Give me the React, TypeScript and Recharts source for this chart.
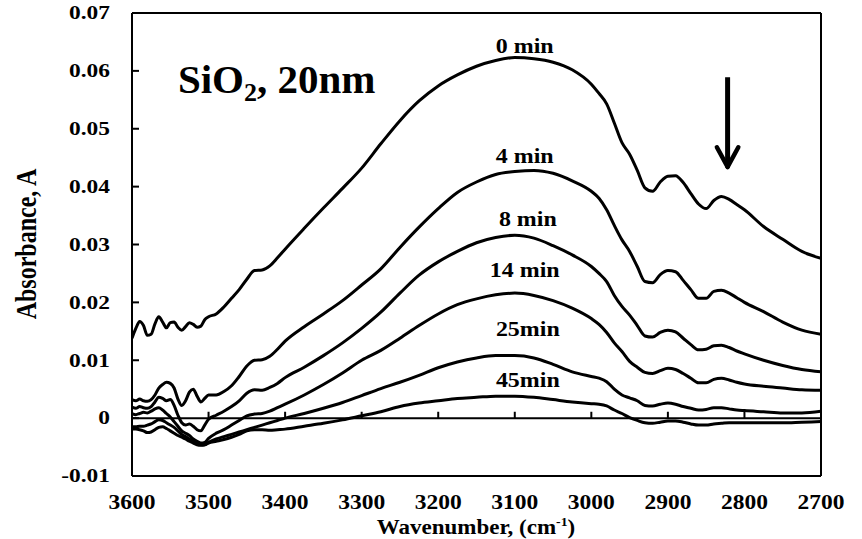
import { LineChart, Line, XAxis, YAxis, ReferenceLine, ReferenceDot } from "recharts";

const FONT = '"Times New Roman", "Liberation Serif", serif';

// wavenumber grid, cm-1
const wavenumbers = [
  3600, 3595, 3590, 3585, 3580, 3575, 3570, 3565, 3560, 3555, 3550, 3545, 3540, 3535, 3530, 3525, 3520, 3515, 3510, 3505, 3500,
  3490, 3480, 3470, 3460, 3450, 3440, 3430, 3420, 3410, 3400,
  3375, 3350, 3325, 3300, 3275, 3250, 3225, 3200, 3175, 3150, 3125, 3100, 3075, 3050, 3025,
  3000, 2990, 2980, 2970, 2960, 2950, 2940, 2930, 2920, 2910, 2900, 2890, 2880, 2870, 2860, 2850, 2840, 2830, 2820, 2810,
  2800, 2775, 2750, 2725, 2700,
];

const min0 = [
  0.0138, 0.0155, 0.0167, 0.016, 0.0143, 0.0145, 0.0163, 0.0175, 0.0166, 0.0156, 0.0165, 0.0166, 0.0157, 0.0152, 0.0158, 0.0165, 0.0162, 0.0157, 0.0159, 0.017, 0.0175,
  0.018, 0.0192, 0.0207, 0.0222, 0.024, 0.0255, 0.0256, 0.0263, 0.0277, 0.0292,
  0.0328, 0.0363, 0.0397, 0.0432, 0.0474, 0.0514, 0.0548, 0.0574, 0.0593, 0.0608, 0.0618, 0.0623, 0.0621, 0.0615, 0.0602,
  0.0577, 0.0561, 0.0543, 0.051, 0.0476, 0.0456, 0.0428, 0.0398, 0.0392, 0.0408, 0.0418, 0.0419, 0.0407, 0.0388, 0.037, 0.0362, 0.0376, 0.0383, 0.0378, 0.0369,
  0.036, 0.0331, 0.0309, 0.0288, 0.0276,
];

const min4 = [
  0.0032, 0.003, 0.0033, 0.003, 0.0029, 0.0032, 0.004, 0.0052, 0.0058, 0.0062, 0.006, 0.0052, 0.0033, 0.0022, 0.003, 0.0045, 0.005, 0.0038, 0.0028, 0.0034, 0.004,
  0.004, 0.0046, 0.0056, 0.0072, 0.009, 0.01, 0.0101, 0.0107, 0.0119, 0.0133,
  0.0158, 0.018, 0.0203, 0.023, 0.0258, 0.0295, 0.033, 0.0362, 0.039, 0.0408, 0.0421, 0.0426, 0.0428, 0.0423, 0.041,
  0.0392, 0.038, 0.036, 0.0333, 0.0308, 0.0288, 0.0262, 0.0236, 0.0234, 0.0248, 0.0255, 0.0253, 0.0238, 0.0222, 0.0207, 0.0207, 0.0219, 0.0221, 0.0216, 0.0208,
  0.02, 0.0184, 0.0166, 0.0152, 0.0145,
];

const min8 = [
  0.0019, 0.0017, 0.002, 0.0018, 0.0017, 0.002, 0.0028, 0.0036, 0.0034, 0.003, 0.0032, 0.0022, 0.0005, -0.0008, -0.0012, -0.001, -0.0014, -0.002, -0.0022, -0.0012, -0.0002,
  0.0005, 0.0012, 0.002, 0.003, 0.0043, 0.0049, 0.0048, 0.0053, 0.006, 0.007,
  0.0088, 0.0108, 0.013, 0.0155, 0.0183, 0.0216, 0.0247, 0.027, 0.0288, 0.0303, 0.0312, 0.0316, 0.0311, 0.0298, 0.0282,
  0.0262, 0.025, 0.0236, 0.0212, 0.0193, 0.0178, 0.016, 0.0142, 0.014, 0.0148, 0.0152, 0.0149, 0.0138, 0.0127, 0.0118, 0.0119, 0.0125, 0.0126, 0.0122, 0.0116,
  0.0111, 0.01, 0.0091, 0.0084, 0.008,
];

const min14 = [
  0.0008, 0.0006, 0.0008, 0.001, 0.0009, 0.0012, 0.0016, 0.0018, 0.0014, 0.0008, 0.0002, -0.0006, -0.0014, -0.0022, -0.0026, -0.003, -0.0036, -0.004, -0.0043, -0.0042, -0.0035,
  -0.0026, -0.002, -0.0012, -0.0004, 0.0004, 0.0007, 0.0008, 0.0012, 0.0018, 0.0024,
  0.004, 0.0058, 0.0078, 0.01, 0.0117, 0.0138, 0.016, 0.018, 0.0196, 0.0206, 0.0213, 0.0216, 0.0212, 0.0203, 0.019,
  0.0172, 0.0162, 0.0148, 0.013, 0.0115, 0.0098, 0.0088, 0.0079, 0.0077, 0.0082, 0.0086, 0.0084, 0.0077, 0.0069, 0.0061, 0.0061, 0.0067, 0.0069, 0.0066, 0.0062,
  0.0059, 0.0055, 0.0052, 0.0049, 0.0048,
];

const min25 = [
  -0.0015, -0.0015, -0.0014, -0.0014, -0.0012, -0.001, -0.0006, -0.0003, -0.0004, -0.0008, -0.0012, -0.0016, -0.0022, -0.0028, -0.0032, -0.0036, -0.004, -0.0044, -0.0046, -0.0046, -0.0042,
  -0.0036, -0.0032, -0.0028, -0.0024, -0.002, -0.0016, -0.0012, -0.0008, -0.0004, 0.0,
  0.0008, 0.0017, 0.0027, 0.0039, 0.0051, 0.0062, 0.0074, 0.0087, 0.0097, 0.0104, 0.0108, 0.0108, 0.0104, 0.0093, 0.008,
  0.0072, 0.0069, 0.0063, 0.005, 0.004, 0.0035, 0.003, 0.0022, 0.0021, 0.0024, 0.0026, 0.0024, 0.002, 0.0017, 0.0014, 0.0015, 0.0018, 0.0018, 0.0016, 0.0014,
  0.0013, 0.0011, 0.0009, 0.0009, 0.0012,
];

const min45 = [
  -0.0019, -0.0019, -0.002, -0.0022, -0.0025, -0.0024, -0.002, -0.0016, -0.0015, -0.0018, -0.0022, -0.0026, -0.003, -0.0033, -0.0036, -0.004, -0.0043, -0.0046, -0.0047, -0.0046, -0.0043,
  -0.004, -0.0037, -0.0033, -0.0028, -0.0022, -0.002, -0.002, -0.0021, -0.002, -0.0019,
  -0.0014, -0.0009, -0.0003, 0.0004, 0.0011, 0.002, 0.0026, 0.003, 0.0034, 0.0036, 0.0038, 0.0038, 0.0036, 0.0032, 0.0028,
  0.0025, 0.0024, 0.0021, 0.0014, 0.0008, 0.0001, -0.0004, -0.0008, -0.0009, -0.0007, -0.0005, -0.0005, -0.0007, -0.001, -0.0012, -0.0012, -0.001, -0.0009, -0.0008, -0.0008,
  -0.0008, -0.0008, -0.0008, -0.0007, -0.0006,
];

const xTicks = [3600, 3500, 3400, 3300, 3200, 3100, 3000, 2900, 2800, 2700];
const yTicks = [-0.01, 0, 0.01, 0.02, 0.03, 0.04, 0.05, 0.06, 0.07];

// curve names and where they sit (wavenumber, absorbance)
const curveNames = ["0 min", "4 min", "8 min", "14 min", "25min", "45min"];
const curveNameX = [3087, 3087, 3083, 3087, 3083, 3083];
const curveNameY = [0.0644, 0.0454, 0.0345, 0.0256, 0.0155, 0.0066];

const seriesKeys = ["m0", "m4", "m8", "m14", "m25", "m45"];

const data = wavenumbers.map((w, i) => ({
  w,
  m0: min0[i],
  m4: min4[i],
  m8: min8[i],
  m14: min14[i],
  m25: min25[i],
  m45: min45[i],
}));

const XTick = (props: any) => {
  const { x, y, payload } = props;
  return (
    <g transform={`translate(${x},${y})`}>
      <text transform="scale(1.12,1)" textAnchor="middle" dy="0.71em" fontSize={21} fontWeight="bold" fontFamily={FONT} fill="#000">
        {payload.value}
      </text>
    </g>
  );
};

const YTick = (props: any) => {
  const { x, y, payload } = props;
  const v = payload.value;
  const label = Math.abs(v) < 1e-9 ? "0" : v.toFixed(2);
  return (
    <g transform={`translate(${x},${y})`}>
      <text transform="scale(1.3,1)" textAnchor="end" dy="0.35em" fontSize={18} fontWeight="bold" fontFamily={FONT} fill="#000">
        {label}
      </text>
    </g>
  );
};

const nameShape = (text: string) => (p: any) => (
  <g transform={`translate(${p.cx},${p.cy})`}>
    <text transform="scale(1.14,1)" textAnchor="middle" dy="0.35em" fontSize={21} fontWeight="bold" fontFamily={FONT} fill="#000">
      {text}
    </text>
  </g>
);

const titleShape = (p: any) => (
  <text x={p.cx} y={p.cy} textAnchor="start" fontSize={41} fontWeight="bold" fontFamily={FONT} fill="#000">
    SiO
    <tspan fontSize={26} dy={8}>2</tspan>
    <tspan dy={-8}>, 20nm</tspan>
  </text>
);

export default function App() {
  return (
    <div style={{ position: "absolute", left: 0, top: 0, width: 862, height: 539, background: "#fff", fontFamily: FONT }}>
      <LineChart width={862} height={539} data={data} margin={{ top: 13, right: 41, bottom: 0, left: 0 }}>
        <XAxis
          dataKey="w"
          type="number"
          domain={[2700, 3600]}
          reversed
          ticks={xTicks}
          interval={0}
          height={63}
          tickSize={0}
          tickMargin={18}
          tickLine={false}
          axisLine={{ stroke: "#000", strokeWidth: 2 }}
          tick={<XTick />}
          allowDataOverflow
        />
        <YAxis
          type="number"
          domain={[-0.01, 0.07]}
          ticks={yTicks}
          interval={0}
          width={132}
          tickSize={-7}
          tickMargin={29}
          tickLine={{ stroke: "#000", strokeWidth: 2 }}
          axisLine={{ stroke: "#000", strokeWidth: 2 }}
          tick={<YTick />}
          allowDataOverflow
        />

        <ReferenceLine y={0.07} stroke="#000" strokeWidth={2} />
        <ReferenceLine x={2700} stroke="#000" strokeWidth={2} />
        <ReferenceLine y={0} stroke="#000" strokeWidth={2} />
        {xTicks.map((w) => (
          <ReferenceLine key={"t" + w} segment={[{ x: w, y: 0 }, { x: w, y: 0.0011 }]} stroke="#000" strokeWidth={2} />
        ))}

        {seriesKeys.map((k) => (
          <Line key={k} dataKey={k} type="monotone" stroke="#000" strokeWidth={3} dot={false} activeDot={false} isAnimationActive={false} />
        ))}

        {curveNames.map((n, i) => (
          <ReferenceDot key={n} x={curveNameX[i]} y={curveNameY[i]} r={0} shape={nameShape(n)} />
        ))}
        <ReferenceDot x={3540} y={0.0561} r={0} shape={titleShape} />

        {/* arrow */}
        <ReferenceLine segment={[{ x: 2822, y: 0.0589 }, { x: 2822, y: 0.0436 }]} stroke="#000" strokeWidth={5} />
        <ReferenceLine segment={[{ x: 2836, y: 0.0468 }, { x: 2822, y: 0.0434 }]} stroke="#000" strokeWidth={4.5} strokeLinecap="round" />
        <ReferenceLine segment={[{ x: 2808, y: 0.0468 }, { x: 2822, y: 0.0434 }]} stroke="#000" strokeWidth={4.5} strokeLinecap="round" />
      </LineChart>

      <div
        style={{
          position: "absolute",
          left: 476,
          top: 527,
          transform: "translate(-50%,-50%) scaleX(1.15)",
          fontSize: 20,
          fontWeight: "bold",
          whiteSpace: "nowrap",
          lineHeight: 1,
        }}
      >
        Wavenumber, (cm<sup style={{ fontSize: 12, lineHeight: 0 }}>-1</sup>)
      </div>
      <div
        style={{
          position: "absolute",
          left: 26,
          top: 244,
          transform: "translate(-50%,-50%) scaleX(1.2) rotate(-90deg)",
          fontSize: 24,
          fontWeight: "bold",
          whiteSpace: "nowrap",
          lineHeight: 1,
        }}
      >
        Absorbance, A
      </div>
    </div>
  );
}
